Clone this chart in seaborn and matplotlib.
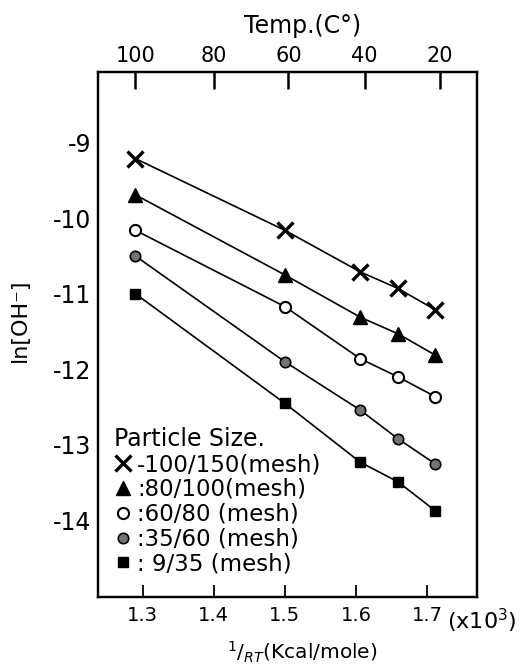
import pandas as pd
import matplotlib.pyplot as plt
import seaborn as sns
from matplotlib.lines import Line2D

# values
inv_rt = [1.29, 1.50, 1.606, 1.659, 1.711]
particle_sizes = ["100/150", "80/100", "60/80", "35/60", "9/35"]
ln_oh_100_150 = [-9.21, -10.16, -10.71, -10.93, -11.21]
ln_oh_80_100 = [-9.69, -10.75, -11.31, -11.53, -11.81]
ln_oh_60_80 = [-10.16, -11.17, -11.86, -12.10, -12.36]
ln_oh_35_60 = [-10.50, -11.90, -12.54, -12.92, -13.25]
ln_oh_9_35 = [-11.00, -12.45, -13.23, -13.49, -13.87]
legend_labels = ["-100/150(mesh)", ":80/100(mesh)", ":60/80 (mesh)",
                 ":35/60 (mesh)", ": 9/35 (mesh)"]
x_ticks = [1.3, 1.4, 1.5, 1.6, 1.7]
y_ticks = [-9, -10, -11, -12, -13, -14]
temp_labels = ["100", "80", "60", "40", "20"]
temp_ticks = [1.29, 1.40, 1.505, 1.612, 1.718]

# long table for seaborn
series = [ln_oh_100_150, ln_oh_80_100, ln_oh_60_80, ln_oh_35_60, ln_oh_9_35]
rows = []
for name, vals in zip(particle_sizes, series):
    for x, y in zip(inv_rt, vals):
        rows.append({"inv_rt": x, "ln_oh": y, "particle": name})
df = pd.DataFrame(rows)

sns.set_style("white")
plt.rcParams["font.family"] = ["DejaVu Sans"]
plt.rcParams["text.color"] = "black"
plt.rcParams["axes.labelcolor"] = "black"
plt.rcParams["xtick.color"] = "black"
plt.rcParams["ytick.color"] = "black"

# marker look per particle size
styles = {
    "100/150": dict(marker="x", markersize=11, markeredgewidth=2.4, markerfacecolor="black"),
    "80/100": dict(marker="^", markersize=9.5, markeredgewidth=1.0, markerfacecolor="black"),
    "60/80": dict(marker="o", markersize=8, markeredgewidth=1.5, markerfacecolor="white"),
    "35/60": dict(marker="o", markersize=7.5, markeredgewidth=1.2, markerfacecolor="0.45"),
    "9/35": dict(marker="s", markersize=7, markeredgewidth=1.0, markerfacecolor="black"),
}

fig = plt.figure(figsize=(5.32, 6.72), dpi=100)
ax = fig.add_axes([0.1842, 0.1121, 0.7124, 0.7812])

for name in particle_sizes:
    sns.lineplot(data=df[df["particle"] == name], x="inv_rt", y="ln_oh",
                 color="black", linewidth=1.2, markeredgecolor="black",
                 legend=False, ax=ax, **styles[name])

ax.set_xlim(1.2374, 1.770)
ax.set_ylim(-15.01, -8.06)
ax.set_xticks(x_ticks)
ax.set_xticklabels([str(t) for t in x_ticks])
ax.set_yticks(y_ticks)
ax.set_yticklabels([str(t) for t in y_ticks])
ax.tick_params(axis="x", direction="in", length=9, width=1.3, labelsize=14, pad=7)
ax.tick_params(axis="y", direction="in", length=6, width=1.3, labelsize=17, pad=5)
for s in ax.spines.values():
    s.set_color("black")
    s.set_linewidth(1.6)

ax.set_xlabel("$^1/_{RT}$(Kcal/mole)", fontsize=14.5)
ax.xaxis.set_label_coords(0.538, -0.082)
ax.set_ylabel("ln[OH⁻]", fontsize=16)
ax.yaxis.set_label_coords(-0.18, 0.527)
ax.annotate("(x10$^3$)", xy=(0.921, 0), xycoords="axes fraction",
            xytext=(0, -7), textcoords="offset points",
            ha="left", va="top", fontsize=16)

# top temperature axis
ax2 = ax.twiny()
ax2.set_xlim(ax.get_xlim())
ax2.set_xticks(temp_ticks)
ax2.set_xticklabels(temp_labels)
ax2.tick_params(axis="x", direction="in", length=12, width=1.8, labelsize=15, pad=4)
ax2.set_xlabel("Temp.(C°)", fontsize=17)
ax2.xaxis.set_label_coords(0.541, 1.074)
for s in ax2.spines.values():
    s.set_color("black")
    s.set_linewidth(1.6)

# legend with markers only
handles = [Line2D([], [], linestyle="none", color="black", markeredgecolor="black",
                  **styles[n]) for n in particle_sizes]
leg = ax.legend(handles, legend_labels, title="Particle Size.", loc="lower left",
                bbox_to_anchor=(0.0, 0.01), frameon=False, fontsize=16.5,
                title_fontsize=17, handlelength=0.8, handletextpad=0.2,
                labelspacing=0.08, borderpad=0.2, alignment="left")

plt.savefig("out.png", dpi=100)
plt.close()
